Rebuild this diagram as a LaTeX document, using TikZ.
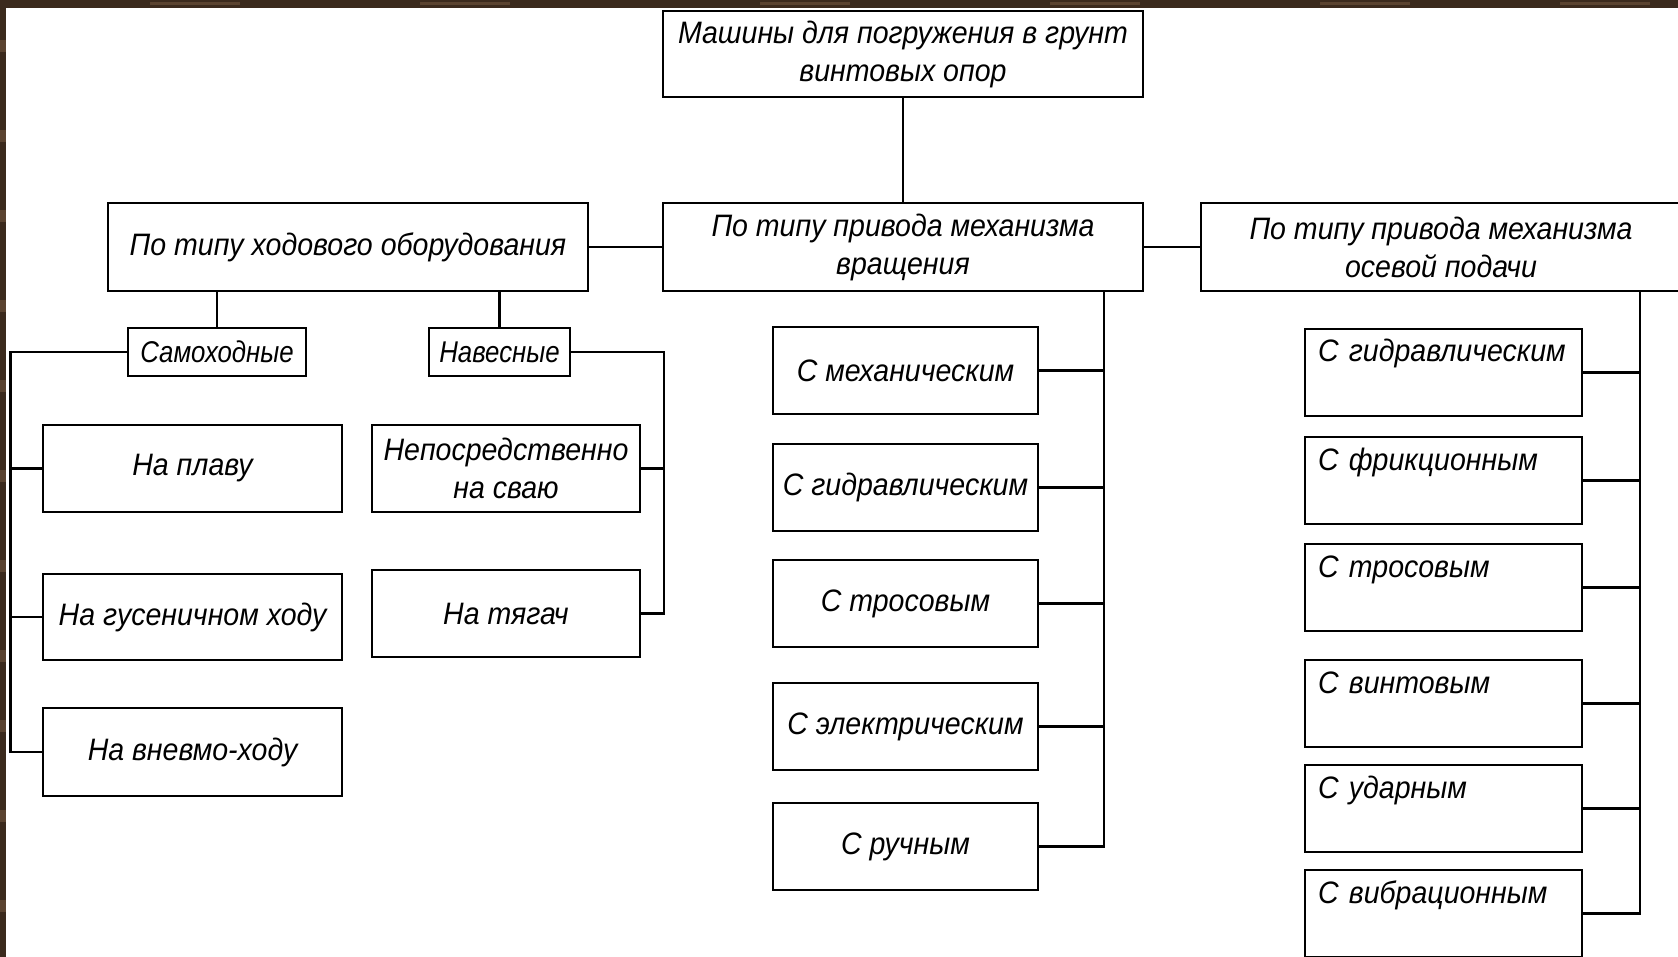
\documentclass[tikz,border=0pt]{standalone}
\usepackage{fontspec}
\newfontfamily\gost{Liberation Sans}[FakeStretch=0.92]
\newfontfamily\gostn{Liberation Sans}[FakeStretch=0.86]
\definecolor{wood}{HTML}{3B2A1D}
\definecolor{woodlight}{HTML}{5A4330}
\begin{document}
\begin{tikzpicture}[x=1pt,y=-1pt,
  box/.style={draw=black, line width=2.7pt, rectangle, inner sep=0pt, align=center,
    font=\gost\itshape\fontsize{31}{38}\selectfont},
  smallbox/.style={box, font=\gostn\itshape\fontsize{30}{38}\selectfont},
  rbox/.style={draw=black, line width=2.7pt, rectangle, inner xsep=13pt, inner ysep=0pt,
    text width=251pt, align=left, text height=33pt, text depth=54pt,
    font=\gost\itshape\fontsize{31}{38}\selectfont},
  conn/.style={line width=2.6pt, black}]
\useasboundingbox (0,0) rectangle (1678,957);
\fill[white] (0,0) rectangle (1678,957);
\begin{scope}
\clip (0,0) rectangle (1678,957);
% level 0 and 1
\node[box, minimum width=480, minimum height=86] (top) at (903,54) {Машины для погружения в грунт\\винтовых опор};
\node[box, minimum width=480, minimum height=88] (rot) at (903,247) {По типу привода механизма\\вращения};
\node[box, minimum width=480, minimum height=88] (hod) at (348,247) {По типу ходового оборудования};
\node[box, minimum width=480, minimum height=88] (ax) at (1441,247) {По типу привода механизма\\осевой подачи};
\draw[conn] (top.south) -- (rot.north);
\draw[conn] (hod.east) -- (rot.west);
\draw[conn] (rot.east) -- (ax.west);
% running gear
\node[smallbox, minimum width=178, minimum height=48] (samo) at (217,352) {Самоходные};
\node[smallbox, minimum width=141, minimum height=48] (nav) at (499.5,352) {Навесные};
\draw[conn] (samo.north) -- (samo.north |- hod.south);
\draw[conn] (nav.north) -- (nav.north |- hod.south);
\node[box, minimum width=299, minimum height=87] (plav) at (192.5,468.5) {На плаву};
\node[box, minimum width=299, minimum height=86] (gus) at (192.5,617) {На гусеничном ходу};
\node[box, minimum width=299, minimum height=88] (pnev) at (192.5,752) {На вневмо-ходу};
\node[box, minimum width=268, minimum height=87] (nepo) at (506,468.5) {Непосредственно\\на сваю};
\node[box, minimum width=268, minimum height=87] (tyag) at (506,613.5) {На тягач};
\coordinate (lb) at (10.7,752);
\coordinate (rb) at (664,613.5);
\draw[conn] (samo.west) -- (samo.west -| lb) -- (lb) -- (pnev.west);
\draw[conn] (plav.west) -- (plav.west -| lb);
\draw[conn] (gus.west) -- (gus.west -| lb);
\draw[conn] (nav.east) -- (nav.east -| rb) -- (rb) -- (tyag.east);
\draw[conn] (nepo.east) -- (nepo.east -| rb);
% rotation drive
\node[box, minimum width=265, minimum height=87] (m1) at (905.5,370.5) {С механическим};
\node[box, minimum width=265, minimum height=87] (m2) at (905.5,487.5) {С гидравлическим};
\node[box, minimum width=265, minimum height=87] (m3) at (905.5,603.5) {С тросовым};
\node[box, minimum width=265, minimum height=87] (m4) at (905.5,726.5) {С электрическим};
\node[box, minimum width=265, minimum height=87] (m5) at (905.5,846.5) {С ручным};
\coordinate (mb) at (1104,846.5);
\draw[conn] (rot.south -| mb) -- (mb) -- (m5.east);
\foreach \n in {m1,m2,m3,m4} \draw[conn] (\n.east) -- (\n.east -| mb);
% axial feed drive
\node[rbox] (a1) at (1443.5,372.5) {С гидравлическим};
\node[rbox] (a2) at (1443.5,480.5) {С фрикционным};
\node[rbox] (a3) at (1443.5,587.5) {С тросовым};
\node[rbox] (a4) at (1443.5,703.5) {С винтовым};
\node[rbox] (a5) at (1443.5,808.5) {С ударным};
\node[rbox] (a6) at (1443.5,913.5) {С вибрационным};
\coordinate (ab) at (1640,913.5);
\draw[conn] (ax.south -| ab) -- (ab) -- (a6.east);
\foreach \n in {a1,a2,a3,a4,a5} \draw[conn] (\n.east) -- (\n.east -| ab);
\end{scope}
% wooden frame
\fill[wood] (0,0) rectangle (1678,8);
\fill[wood] (0,0) rectangle (6,957);
\foreach \yy in {40,130,210,300,380,470,560,650,720,810,900} \fill[woodlight] (0,\yy) rectangle (6,\yy+12);
\foreach \xx in {150,420,760,1050,1320,1560} \fill[woodlight] (\xx,2) rectangle (\xx+90,5);
\end{tikzpicture}
\end{document}
